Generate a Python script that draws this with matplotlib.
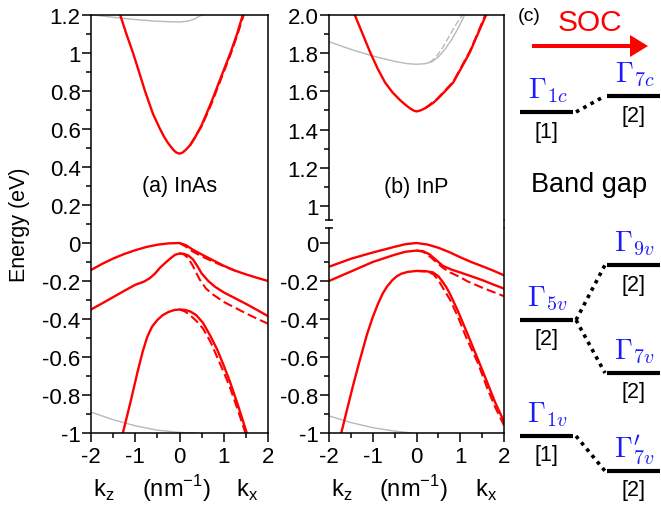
import matplotlib
matplotlib.use('Agg')
import matplotlib.pyplot as plt
from matplotlib.ticker import FixedLocator, FixedFormatter, MultipleLocator
from matplotlib.patches import FancyArrow
from matplotlib.lines import Line2D

plt.rcParams['font.family'] = ['Liberation Sans', 'DejaVu Sans']

# ---------------- band data (k in nm^-1, E in eV) ----------------
# (a) InAs
a_cb_k = [-1.34, -1.2, -1.05, -0.9, -0.78, -0.6, -0.44, -0.35, -0.27, -0.2, -0.13, -0.07, 0,
          0.07, 0.14, 0.24, 0.35, 0.5, 0.7, 0.85, 1.0, 1.15, 1.3, 1.43]
a_cb_e = [1.2, 1.1, 1.0, 0.89, 0.8, 0.68, 0.6, 0.56, 0.53, 0.508, 0.488, 0.476, 0.47,
          0.476, 0.49, 0.515, 0.555, 0.62, 0.73, 0.82, 0.91, 1.0, 1.1, 1.2]
a_cbd_k = [0.24, 0.5, 0.7, 0.85, 1.0, 1.15, 1.3, 1.45]
a_cbd_e = [0.515, 0.615, 0.72, 0.81, 0.9, 0.99, 1.09, 1.2]
a_hh_k = [-2, -1.75, -1.5, -1.25, -1, -0.75, -0.5, -0.25, 0, 0.15, 0.3, 0.5, 0.75, 1.0, 1.25, 1.5, 1.75, 2]
a_hh_e = [-0.142, -0.11, -0.082, -0.058, -0.038, -0.021, -0.009, -0.002, 0, -0.012, -0.035, -0.06, -0.09, -0.12, -0.145, -0.165, -0.183, -0.2]
a_hhd_k = [0, 0.15, 0.3, 0.5, 0.75, 1.0, 1.25]
a_hhd_e = [0, -0.02, -0.045, -0.07, -0.097, -0.122, -0.145]
a_lh_k = [-2, -1.75, -1.5, -1.25, -1, -0.8, -0.67, -0.55, -0.44, -0.3, -0.2, -0.1, 0,
          0.1, 0.2, 0.3, 0.4, 0.5, 0.65, 0.8, 1.0, 1.25, 1.5, 1.75, 2]
a_lh_e = [-0.35, -0.318, -0.285, -0.252, -0.22, -0.203, -0.185, -0.16, -0.13, -0.1, -0.08, -0.062, -0.055,
          -0.057, -0.066, -0.085, -0.12, -0.16, -0.2, -0.23, -0.26, -0.29, -0.32, -0.352, -0.385]
a_lhd_k = [0, 0.1, 0.2, 0.3, 0.45, 0.6, 0.75, 1.0, 1.25, 1.5, 1.75, 2]
a_lhd_e = [-0.055, -0.06, -0.08, -0.12, -0.19, -0.24, -0.27, -0.31, -0.34, -0.37, -0.398, -0.425]
a_so_k = [-1.28, -1.1, -0.95, -0.83, -0.73, -0.62, -0.5, -0.38, -0.25, -0.12, 0,
          0.12, 0.24, 0.38, 0.53, 0.7, 0.85, 1.0, 1.14, 1.33, 1.52]
a_so_e = [-1.0, -0.83, -0.68, -0.57, -0.495, -0.44, -0.405, -0.38, -0.363, -0.353, -0.35,
          -0.352, -0.36, -0.38, -0.42, -0.49, -0.56, -0.645, -0.73, -0.86, -1.0]
a_sod_k = [0, 0.12, 0.24, 0.38, 0.53, 0.7, 0.85, 1.0, 1.14, 1.32, 1.49]
a_sod_e = [-0.35, -0.36, -0.38, -0.41, -0.45, -0.52, -0.6, -0.68, -0.76, -0.88, -1.0]
a_gt_k = [-1.95, -1.5, -1.0, -0.5, 0, 0.2, 0.35, 0.5]
a_gt_e = [1.2, 1.188, 1.176, 1.167, 1.163, 1.168, 1.18, 1.2]
a_gb_k = [-2, -1.5, -1, -0.5, 0, 0.4]
a_gb_e = [-0.89, -0.93, -0.962, -0.985, -0.997, -1.0]

# (b) InP
b_cb_k = [-1.41, -1.23, -1.06, -0.89, -0.72, -0.55, -0.38, -0.28, -0.2, -0.12, -0.06, 0,
          0.06, 0.12, 0.2, 0.3, 0.4, 0.47, 0.65, 0.84, 1.03, 1.22, 1.4, 1.59]
b_cb_e = [2.0, 1.9, 1.805, 1.72, 1.647, 1.595, 1.555, 1.535, 1.52, 1.507, 1.499, 1.495,
          1.498, 1.503, 1.512, 1.527, 1.543, 1.558, 1.6, 1.647, 1.725, 1.805, 1.9, 2.0]
b_cbd_k = [0.2, 0.47, 0.84, 1.22, 1.4, 1.57]
b_cbd_e = [1.512, 1.56, 1.65, 1.81, 1.905, 2.0]
b_hh_k = [-2, -1.5, -1, -0.5, -0.25, 0, 0.25, 0.5, 0.75, 1, 1.25, 1.5, 1.75, 2]
b_hh_e = [-0.125, -0.083, -0.05, -0.02, -0.006, 0, -0.008, -0.025, -0.048, -0.075, -0.1, -0.122, -0.145, -0.17]
b_lh_k = [-2, -1.5, -1, -0.5, -0.25, 0, 0.15, 0.3, 0.45, 0.6, 0.8, 1.0, 1.25, 1.5, 1.75, 2]
b_lh_e = [-0.2, -0.15, -0.1, -0.062, -0.046, -0.04, -0.043, -0.06, -0.09, -0.12, -0.14, -0.155, -0.175, -0.195, -0.218, -0.24]
b_lhd_k = [0, 0.15, 0.3, 0.45, 0.6, 0.77, 1.0, 1.15, 1.5, 2]
b_lhd_e = [-0.04, -0.046, -0.07, -0.1, -0.13, -0.155, -0.18, -0.2, -0.235, -0.28]
b_so_k = [-1.72, -1.58, -1.45, -1.3, -1.13, -1.0, -0.88, -0.77, -0.67, -0.55, -0.45, -0.35, -0.2, 0,
          0.2, 0.38, 0.5, 0.6, 0.68, 0.77, 0.95, 1.15, 1.4, 1.61, 1.8, 2]
b_so_e = [-1.0, -0.87, -0.75, -0.62, -0.48, -0.39, -0.32, -0.265, -0.228, -0.195, -0.175, -0.162, -0.152, -0.147,
          -0.148, -0.155, -0.175, -0.205, -0.232, -0.27, -0.36, -0.47, -0.61, -0.73, -0.84, -0.94]
b_sod_k = [0, 0.2, 0.38, 0.5, 0.6, 0.77, 0.95, 1.15, 1.4, 1.61, 1.8, 2]
b_sod_e = [-0.147, -0.15, -0.163, -0.195, -0.235, -0.3, -0.39, -0.505, -0.63, -0.76, -0.865, -0.96]
b_gt_k = [-2, -1.5, -1, -0.5, -0.2, 0, 0.2, 0.35, 0.5, 0.65, 0.8, 0.95, 1.1]
b_gt_e = [1.86, 1.82, 1.785, 1.757, 1.745, 1.742, 1.745, 1.755, 1.78, 1.82, 1.87, 1.93, 2.0]
b_gtd_k = [0.3, 0.45, 0.6, 0.75, 0.9, 1.05]
b_gtd_e = [1.752, 1.78, 1.83, 1.89, 1.95, 2.0]
b_gb_k = [-2, -1.5, -1, -0.5, -0.1]
b_gb_e = [-0.91, -0.945, -0.972, -0.99, -1.0]

x_ticks = [-2, -1, 0, 1, 2]
x_labels = ['-2', '-1', '0', '1', '2']
a_yticks = [1.2, 1.0, 0.8, 0.6, 0.4, 0.2, 0, -0.2, -0.4, -0.6, -0.8, -1]
a_ylabels = ['1.2', '1', '0.8', '0.6', '0.4', '0.2', '0', '-0.2', '-0.4', '-0.6', '-0.8', '-1']
bt_yticks = [2.0, 1.8, 1.6, 1.4, 1.2, 1.0]
bt_ylabels = ['2.0', '1.8', '1.6', '1.4', '1.2', '1']
bb_yticks = [0, -0.2, -0.4, -0.6, -0.8, -1]
bb_ylabels = ['0', '-0.2', '-0.4', '-0.6', '-0.8', '-1']

# (c) level scheme
lvl_names = [r'$\Gamma_{1c}$', r'$\Gamma_{7c}$', r'$\Gamma_{5v}$', r'$\Gamma_{9v}$',
             r'$\Gamma_{7v}$', r'$\Gamma_{1v}$', r'$\Gamma^{\prime}_{7v}$']
lvl_degen = ['[1]', '[2]', '[2]', '[2]', '[2]', '[1]', '[2]']
lvl_col = [0, 1, 0, 1, 1, 0, 1]
lvl_links = [(0, 1), (2, 3), (2, 4), (5, 6)]

# ---------------- layout ----------------
W, H = 661, 506
def box(x0, y0, x1, y1):
    return [x0 / W, 1 - y1 / H, (x1 - x0) / W, (y1 - y0) / H]

RED = '#ff0000'
GREY = '#b8b8b8'
solid = dict(color=RED, lw=1.7)
dashed = dict(color=RED, lw=1.5, dashes=(4.5, 2))
grey = dict(color=GREY, lw=1.0)

fig = plt.figure(figsize=(W / 100, H / 100), dpi=100)

# schematic canvas in pixel units
axc = fig.add_axes([0, 0, 1, 1])
axc.set_xlim(0, W)
axc.set_ylim(H, 0)
axc.axis('off')

ax_a = fig.add_axes(box(91, 16, 268, 434))
ax_bt = fig.add_axes(box(329, 16, 504, 221))
ax_bb = fig.add_axes(box(329, 229, 504, 434))


def style(ax, yticks, ylabels):
    ax.set_xlim(-2, 2)
    ax.yaxis.set_major_locator(FixedLocator(yticks))
    ax.yaxis.set_major_formatter(FixedFormatter(ylabels))
    ax.yaxis.set_minor_locator(MultipleLocator(0.1))
    ax.xaxis.set_major_locator(FixedLocator(x_ticks))
    ax.xaxis.set_major_formatter(FixedFormatter(x_labels))
    ax.xaxis.set_minor_locator(MultipleLocator(0.5))
    ax.tick_params(which='both', direction='out', width=1.1, labelsize=16,
                   right=False, top=False)
    ax.tick_params(which='major', length=6.5)
    ax.tick_params(which='minor', length=3.5)
    ax.tick_params(axis='y', pad=1)
    ax.tick_params(axis='x', pad=3)
    for s in ax.spines.values():
        s.set_linewidth(1.1)


def draw(ax, curves):
    for k, e, st in curves:
        ax.plot(k, e, **st)


a_curves = [(a_gt_k, a_gt_e, grey), (a_gb_k, a_gb_e, grey),
            (a_cbd_k, a_cbd_e, dashed), (a_hhd_k, a_hhd_e, dashed),
            (a_lhd_k, a_lhd_e, dashed), (a_sod_k, a_sod_e, dashed),
            (a_cb_k, a_cb_e, solid), (a_hh_k, a_hh_e, solid),
            (a_lh_k, a_lh_e, solid), (a_so_k, a_so_e, solid)]
b_curves = [(b_gt_k, b_gt_e, grey), (b_gtd_k, b_gtd_e, dict(grey, dashes=(4.5, 2))),
            (b_gb_k, b_gb_e, grey),
            (b_cbd_k, b_cbd_e, dashed), (b_lhd_k, b_lhd_e, dashed), (b_sod_k, b_sod_e, dashed),
            (b_cb_k, b_cb_e, solid), (b_hh_k, b_hh_e, solid),
            (b_lh_k, b_lh_e, solid), (b_so_k, b_so_e, solid)]

draw(ax_a, a_curves)
ax_a.set_ylim(-1, 1.2)
style(ax_a, a_yticks, a_ylabels)

for ax in (ax_bt, ax_bb):
    draw(ax, b_curves)
ax_bt.set_ylim(1 - 14 / 190, 2.0)
ax_bb.set_ylim(-1, 15 / 190)
style(ax_bt, bt_yticks, bt_ylabels)
style(ax_bb, bb_yticks, bb_ylabels)
ax_bt.spines['bottom'].set_visible(False)
ax_bt.tick_params(axis='x', which='both', bottom=False, labelbottom=False)
ax_bb.spines['top'].set_visible(False)

# break caps on the left spine and the right spine bridging the gap
ax_bt.plot([0], [0], transform=ax_bt.transAxes, marker='_', ms=6, mew=1.1,
           color='k', clip_on=False)
ax_bb.plot([0], [1], transform=ax_bb.transAxes, marker='_', ms=6, mew=1.1,
           color='k', clip_on=False)
axc.add_line(Line2D([504, 504], [221, 229], color='k', lw=1.1))

ax_a.text(0, 0.30, '(a) InAs', ha='center', va='center', fontsize=15.5)
ax_bb.text(0, 0.30, '(b) InP', ha='center', va='center', fontsize=15.5, clip_on=False)

fig.text(20 / W, 1 - 225 / H, 'Energy (eV)', rotation=90, ha='center', va='center', fontsize=15.5)
for xk, xn, xx in ((104, 176, 247), (342, 413, 486)):
    fig.text(xk / W, 1 - 497 / H, r'k$_\mathregular{z}$', ha='center', va='baseline', fontsize=17)
    fig.text(xn / W, 1 - 497 / H, r'(nm$^\mathregular{-1}$)', ha='center', va='baseline', fontsize=17)
    fig.text(xx / W, 1 - 497 / H, r'k$_\mathregular{x}$', ha='center', va='baseline', fontsize=17)

# ---------------- (c) SOC level scheme ----------------
axc.text(518, 16, '(c)', ha='left', va='center', fontsize=14)
axc.text(590, 23, 'SOC', ha='center', va='center', fontsize=21.5, color=RED)
axc.add_patch(FancyArrow(532, 47, 116, 0, width=4, head_width=22, head_length=18,
                         length_includes_head=True, color=RED, lw=0))
axc.text(589, 192, 'Band gap', ha='center', va='baseline', fontsize=19.5)

col_x = [(520, 573), (607, 660)]
lvl_y = [113, 97, 321, 266, 374, 437, 472]
for name, deg, c, y in zip(lvl_names, lvl_degen, lvl_col, lvl_y):
    x0, x1 = col_x[c]
    axc.plot([x0, x1], [y, y], color='k', lw=3, solid_capstyle='butt')
    xm = (x0 + x1) / 2
    axc.text(xm + 1, y - 15, name, ha='center', va='baseline', fontsize=20.5,
             color='#1a1aff', math_fontfamily='cm')
    axc.text(xm, y + 19, deg, ha='center', va='center', fontsize=15.5)
for i, j in lvl_links:
    axc.plot([col_x[0][1] + 3, col_x[1][0] - 2], [lvl_y[i], lvl_y[j]], color='k',
             lw=2.6, linestyle=(0, (1, 1.3)))

fig.savefig('out.png', dpi=100)
